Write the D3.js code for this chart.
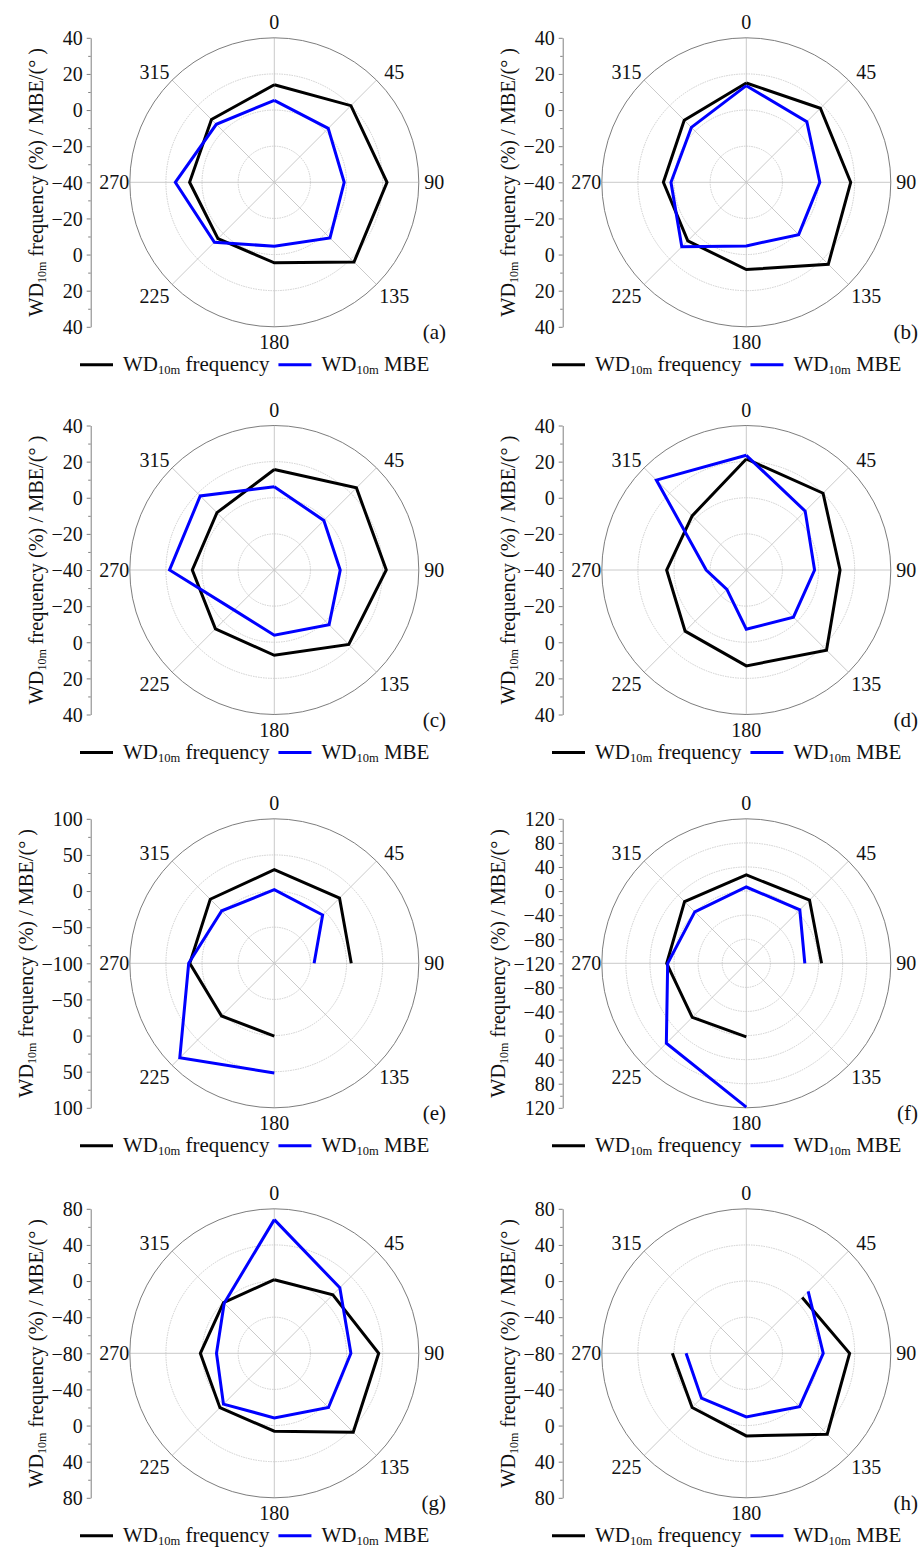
<!DOCTYPE html>
<html>
<head>
<meta charset="utf-8">
<script src="https://cdn.jsdelivr.net/npm/d3@7"></script>
<style>
  html, body { margin: 0; padding: 0; background: #fff; }
  svg { display: block; font-family: 'Liberation Serif', 'DejaVu Serif', serif; }
  svg text { font-family: 'Liberation Serif', 'DejaVu Serif', serif !important; fill: #111; }
</style>
</head>
<body>
<svg id="chart" width="920" height="1551" font-family="Liberation Serif"></svg>
<script>
// ---- data ----
const directions = [0, 45, 90, 135, 180, 225, 270, 315];
const panelLabels = ["(a)", "(b)", "(c)", "(d)", "(e)", "(f)", "(g)", "(h)"];
const seriesNames = ["frequency", "MBE"];

const freqA = [14, 20, 22.4, 22.4, 4.6, 4.1, 6.9, 9.2];
const mbeA  = [5.4, 2.2, -1.3, 3.6, -4.6, 6.9, 14.8, 5.4];
const freqB = [15, 18, 17.8, 24.2, 8.3, 5.8, 5.9, 8.6];
const mbeB  = [13.5, 7.4, 0.7, 1, -4.8, 10.5, 1.7, 3];
const freqC = [15.6, 24.3, 22, 18.3, 7.2, 6.1, 5.4, 4.9];
const mbeC  = [6.1, -1.2, -3.5, 2.9, -3.9, -8.6, 18, 18];
const freqD = [21.5, 20.1, 11.9, 22.8, 13.1, 7.9, 4.1, 2.4];
const mbeD  = [23.5, 6.1, -2.2, -3.1, -7.2, -24.8, -17.8, 30.4];
const freqE = [29.6, 27.7, 6.5, null, 0.9, 3.2, 17, 25.4];
const mbeE  = [1.9, -5.4, -44.9, null, 51.9, 85, 18.5, 2.8];
const freqF = [26.7, 28.5, 5, null, 2.2, 6.9, 12.2, 25];
const mbeF  = [6.7, 5.7, -22.8, null, 118.9, 67.8, 10.6, 1];
const freqG = [1.5, 11.7, 35.6, 43.6, 6.3, 5.1, 1.9, -0.5];
const mbeG  = [68, 22.6, 4.8, 4.8, -8.5, -0.4, -16, -1.5];
const freqH = [null, 7.5, 34.4, 46.7, 11.5, 4.8, 1.9, null];
const mbeH  = [null, 16.9, 5.2, 3.5, -9.6, -9.8, -13.3, null];

const ticks40  = [-40, -20, 0, 20, 40];
const ticks100 = [-100, -50, 0, 50, 100];
const ticks120 = [-120, -80, -40, 0, 40, 80, 120];
const ticks80  = [-80, -40, 0, 40, 80];

const freqs = [freqA, freqB, freqC, freqD, freqE, freqF, freqG, freqH];
const mbes  = [mbeA, mbeB, mbeC, mbeD, mbeE, mbeF, mbeG, mbeH];
const tickSets = [ticks40, ticks40, ticks40, ticks40, ticks100, ticks120, ticks80, ticks80];

// ---- layout ----
const R = 144.5;
const colX = [274.3, 746.3];
const rowY = [182.3, 570, 963.3, 1353.3];
const colors = ["#000000", "#0000ff"];
const FS = 20;
const FONT = "'Liberation Serif', 'DejaVu Serif', serif";

const svg = d3.select("#chart");

function addWD(textSel, rest, subSize) {
  textSel.append("tspan").text("WD");
  textSel.append("tspan").attr("font-size", subSize).attr("dy", 3.5).text("10m");
  textSel.append("tspan").attr("dy", -3.5).text(rest);
}

panelLabels.forEach((lab, i) => {
  const cx = colX[i % 2], cy = rowY[Math.floor(i / 2)];
  const tks = tickSets[i];
  const vmin = d3.min(tks), vmax = d3.max(tks);
  const rs = d3.scaleLinear().domain([vmin, vmax]).range([0, R]);
  const g = svg.append("g");
  const pg = g.append("g").attr("transform", `translate(${cx},${cy})`);

  // grid circles (dotted)
  pg.selectAll("circle.grid").data(tks.filter(t => t > vmin && t < vmax)).join("circle")
    .attr("r", d => rs(d)).attr("fill", "none")
    .attr("stroke", "#c8c8c8").attr("stroke-width", 0.9).attr("stroke-dasharray", "1.5,1");
  // spokes
  pg.selectAll("line.spoke").data(directions).join("line")
    .attr("x1", 0).attr("y1", 0)
    .attr("x2", d => R * Math.sin(d * Math.PI / 180))
    .attr("y2", d => -R * Math.cos(d * Math.PI / 180))
    .attr("stroke", "#c4c4c4").attr("stroke-width", 0.9);
  // outer circle
  pg.append("circle").attr("r", rs(vmax)).attr("fill", "none")
    .attr("stroke", "#6e6e6e").attr("stroke-width", 0.9);

  // angle labels
  pg.selectAll("text.ang").data(directions).join("text")
    .attr("text-anchor", "middle").attr("dominant-baseline", "central")
    .attr("font-size", FS)
    .attr("x", d => { const diag = d % 90 !== 0; return 160 * Math.sin(d * Math.PI / 180) * (diag ? 1.06 : 1); })
    .attr("y", d => { const diag = d % 90 !== 0; return -160 * Math.cos(d * Math.PI / 180) * (diag ? 0.99 : 1) + (diag ? 2 : 0); })
    .text(d => d);

  // series lines
  const line = d3.lineRadial()
    .angle(d => d.dir * Math.PI / 180)
    .radius(d => rs(d.v))
    .defined(d => d.v != null);
  [freqs[i], mbes[i]].forEach((vals, s) => {
    const pts = directions.map((dir, k) => ({ dir, v: vals[k] }));
    const k0 = vals.findIndex(v => v == null);
    let seq;
    if (k0 < 0) seq = pts.concat([pts[0]]);
    else seq = d3.range(1, 9).map(j => pts[(k0 + j) % 8]);
    pg.append("path").datum(seq).attr("d", line)
      .attr("fill", "none").attr("stroke", colors[s]).attr("stroke-width", 3)
      .attr("stroke-linejoin", "miter").attr("stroke-linecap", "butt");
  });

  // left radial axis (mirrored)
  const ax = cx - 183.6;
  const up = d3.scaleLinear().domain([vmin, vmax]).range([cy, cy - R]);
  const dn = d3.scaleLinear().domain([vmin, vmax]).range([cy, cy + R]);
  const step = tks[1] - tks[0];
  const minor = d3.range(vmin + step / 2, vmax, step);
  const axG = g.append("g").attr("transform", `translate(${ax},0)`);
  [up, dn].forEach((sc, h) => {
    const a = d3.axisLeft(sc).tickValues(h === 0 ? tks : tks.slice(1)).tickSize(4).tickSizeOuter(0).tickPadding(4);
    const ag = axG.append("g").call(a);
    ag.attr("font-family", FONT).attr("font-size", FS);
    ag.selectAll("text").attr("font-size", FS).attr("fill", "#111");
    ag.selectAll("line").attr("stroke", "#808080");
    ag.select(".domain").attr("stroke", "#808080");
    const m = d3.axisLeft(sc).tickValues(minor).tickSize(2.5).tickFormat("").tickSizeOuter(0);
    const mg = axG.append("g").call(m);
    mg.selectAll("line").attr("stroke", "#808080");
    mg.select(".domain").remove();
  });
  axG.selectAll("text").attr("dy", "0.34em");
  const bb = axG.node().getBBox();

  // axis title
  const tx = ax + bb.x - 16;
  const title = g.append("text").attr("font-size", 20.3).attr("text-anchor", "middle")
    .attr("transform", `translate(${tx},${cy}) rotate(-90)`).attr("dy", "0.35em");
  addWD(title, " frequency (%) / MBE/(° )", 12);

  // panel label
  g.append("text").attr("x", cx + 171.7).attr("y", cy + 157).attr("text-anchor", "end")
    .attr("font-size", 21).text(lab);

  // legend
  const ly = cy + 182.5;
  let x = cx - 194.3;
  seriesNames.forEach((nm, s) => {
    g.append("line").attr("x1", x).attr("x2", x + 33).attr("y1", ly).attr("y2", ly)
      .attr("stroke", colors[s]).attr("stroke-width", 3);
    const t = g.append("text").attr("x", x + 43).attr("y", ly + 6).attr("font-size", 21);
    addWD(t, " " + nm, 12.5);
    x = x + 43 + t.node().getComputedTextLength() + 9;
  });
});
svg.selectAll("text").attr("font-family", FONT);
</script>
</body>
</html>
